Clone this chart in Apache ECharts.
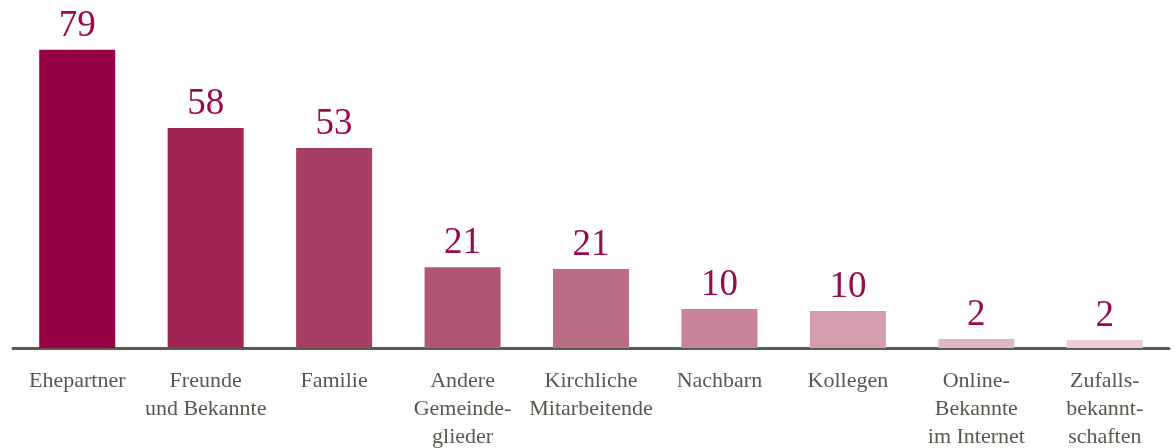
<!DOCTYPE html>
<html>
<head>
<meta charset="utf-8">
<script src="https://cdn.jsdelivr.net/npm/echarts@6/dist/echarts.min.js"></script>
<style>
  html, body { margin: 0; padding: 0; background: #fff; }
  #chart { width: 1176px; height: 448px; }
</style>
</head>
<body>
<div id="chart"></div>
<script>
// Kategorien und Werte (Beschriftung gerundet)
const categories = [
  'Ehepartner',
  'Freunde\nund Bekannte',
  'Familie',
  'Andere\nGemeinde-\nglieder',
  'Kirchliche\nMitarbeitende',
  'Nachbarn',
  'Kollegen',
  'Online-\nBekannte\nim Internet',
  'Zufalls-\nbekannt-\nschaften'
];
const values = [79, 58.3, 53, 21.4, 20.9, 10.3, 9.8, 2.4, 2.1];
const barColors = [
  '#960045', '#9f2555', '#a73e65', '#af5675', '#bc6d86',
  '#c78399', '#d39dae', '#dfb7c4', '#e9ccd6'
];

window.onload = function () {
  const chart = echarts.init(document.getElementById('chart'));

  const option = {
    animation: false,
    grid: { left: 13, right: 7, top: 46, bottom: 100, outerBoundsMode: 'none', containLabel: false },
    xAxis: {
      type: 'category',
      data: categories,
      axisLine: { lineStyle: { color: '#585d52', width: 3 } },
      axisTick: { show: false },
      axisLabel: {
        interval: 0,
        margin: 19,
        color: '#555a4e',
        fontFamily: 'Liberation Serif',
        fontSize: 22,
        lineHeight: 28
      }
    },
    yAxis: {
      type: 'value',
      min: 0,
      max: 80,
      show: false,
      splitLine: { show: false }
    },
    series: [{
      type: 'bar',
      barWidth: 76,
      data: values.map((v, i) => ({ value: v, itemStyle: { color: barColors[i] } })),
      label: {
        show: true,
        position: 'top',
        distance: 5,
        color: '#9a0a4b',
        fontFamily: 'Liberation Serif',
        fontSize: 37,
        formatter: (p) => Math.round(p.value)
      }
    }]
  };

  chart.setOption(option);
};
</script>
</body>
</html>
